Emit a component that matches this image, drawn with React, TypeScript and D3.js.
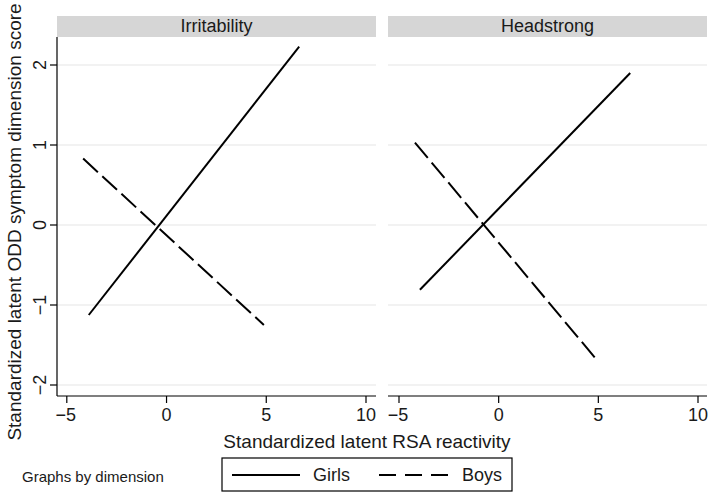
import React from "react";
import * as d3 from "d3";

const panels = ["Irritability", "Headstrong"];
const seriesNames = ["Girls", "Boys"];
// endpoints [x1, y1, x2, y2] per panel, per series
const girlsX = [[-3.9, 6.65], [-3.95, 6.6]];
const girlsY = [[-1.125, 2.23], [-0.81, 1.9]];
const boysX = [[-4.18, 4.88], [-4.2, 4.87]];
const boysY = [[0.83, -1.25], [1.03, -1.67]];
const xTicks = [-5, 0, 5, 10];
const yTicks = [-2, -1, 0, 1, 2];

const W = 709;
const H = 492;
const FONT = "Liberation Sans, Arial, Helvetica, sans-serif";
const fmt = (v: number) => (v < 0 ? "\u2212" + Math.abs(v) : String(v));

export default function App() {
  const panelX = [
    [57, 376],
    [388, 707],
  ];
  const top = 37;
  const bottom = 396;
  const y = d3.scaleLinear().domain([-2, 2]).range([385, 65]);
  const line = d3.line<[number, number]>();

  return (
    <svg
      width={W}
      height={H}
      style={{ position: "absolute", left: 0, top: 0, background: "#fff" }}
      fontFamily={FONT}
    >
      <rect x={0} y={0} width={W} height={H} fill="#fff" />
      {panels.map((name, i) => {
        const [x0, x1] = panelX[i];
        const x = d3
          .scaleLinear()
          .domain([-5, 10])
          .range(i === 0 ? [66.8, 366] : [399, 698]);
        const series = [
          { xs: girlsX[i], ys: girlsY[i], dash: undefined },
          { xs: boysX[i], ys: boysY[i], dash: "20 6" },
        ];
        return (
          <g key={name}>
            <rect x={x0} y={16} width={x1 - x0} height={21} fill="#d6d6d6" />
            <text
              x={(x0 + x1) / 2}
              y={32}
              textAnchor="middle"
              fontSize={18}
              fill="#1a1a1a"
            >
              {name}
            </text>
            {yTicks.map((t) => (
              <line
                key={t}
                x1={x0}
                x2={x1}
                y1={y(t)}
                y2={y(t)}
                stroke="#e6e6e6"
                strokeWidth={1.2}
              />
            ))}
            <line x1={x0} x2={x1} y1={bottom} y2={bottom} stroke="#000" strokeWidth={1.2} />
            {xTicks.map((t) => (
              <g key={t}>
                <line
                  x1={x(t)}
                  x2={x(t)}
                  y1={bottom}
                  y2={bottom + 7}
                  stroke="#000"
                  strokeWidth={1.2}
                />
                <text
                  x={x(t) - (t < 0 ? 1 : 0)}
                  y={421}
                  textAnchor="middle"
                  fontSize={18}
                  fill="#1a1a1a"
                >
                  {fmt(t)}
                </text>
              </g>
            ))}
            {i === 0 && (
              <g>
                <line x1={x0} x2={x0} y1={top} y2={bottom} stroke="#000" strokeWidth={1.2} />
                {yTicks.map((t) => (
                  <g key={t}>
                    <line
                      x1={x0 - 7}
                      x2={x0}
                      y1={y(t)}
                      y2={y(t)}
                      stroke="#000"
                      strokeWidth={1.2}
                    />
                    <text
                      transform={`translate(46,${y(t)}) rotate(-90)`}
                      textAnchor="middle"
                      fontSize={18}
                      fill="#1a1a1a"
                    >
                      {fmt(t)}
                    </text>
                  </g>
                ))}
              </g>
            )}
            {series.map((s, k) => (
              <path
                key={k}
                d={
                  line([
                    [x(s.xs[0]), y(s.ys[0])],
                    [x(s.xs[1]), y(s.ys[1])],
                  ]) || ""
                }
                fill="none"
                stroke="#000"
                strokeWidth={2}
                strokeDasharray={s.dash}
              />
            ))}
          </g>
        );
      })}
      <text
        transform={`translate(21,222) rotate(-90)`}
        textAnchor="middle"
        fontSize={19}
        fill="#1a1a1a"
      >
        Standardized latent ODD symptom dimension score
      </text>
      <text x={367} y={448} textAnchor="middle" fontSize={19} fill="#1a1a1a">
        Standardized latent RSA reactivity
      </text>
      <text x={22} y={482} fontSize={15} fill="#1a1a1a">
        Graphs by dimension
      </text>
      <g>
        <rect x={222} y={458} width={290} height={33} fill="#fff" stroke="#000" strokeWidth={1.2} />
        <line x1={232} x2={300} y1={475} y2={475} stroke="#000" strokeWidth={2} />
        <text x={313} y={481} fontSize={18} fill="#1a1a1a">
          {seriesNames[0]}
        </text>
        <line
          x1={379}
          x2={449}
          y1={475}
          y2={475}
          stroke="#000"
          strokeWidth={2}
          strokeDasharray="17 9"
        />
        <text x={462} y={481} fontSize={18} fill="#1a1a1a">
          {seriesNames[1]}
        </text>
      </g>
    </svg>
  );
}
